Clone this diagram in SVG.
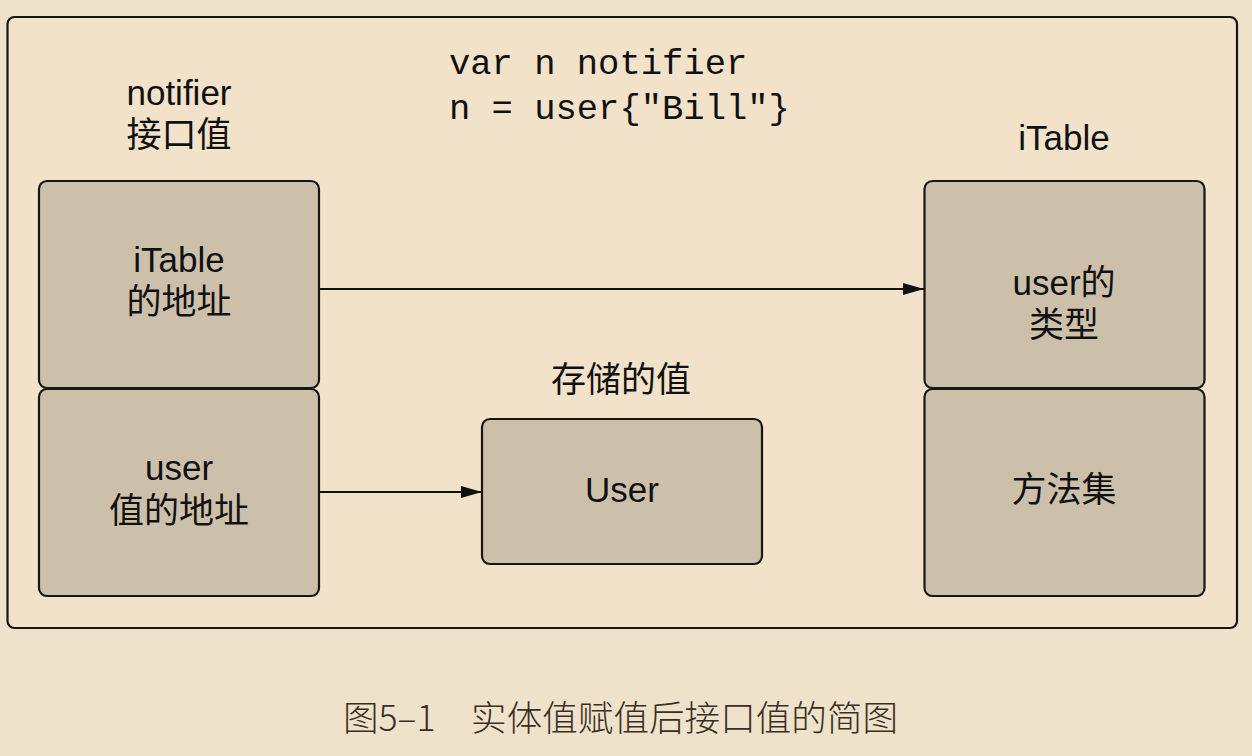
<svg xmlns="http://www.w3.org/2000/svg" width="1252" height="756" viewBox="0 0 1252 756">
<defs>
<style>
.box{fill:#cdc0aa;stroke:#161616;stroke-width:2.2}
.lbl{font-family:"Liberation Sans","Noto Sans CJK SC",sans-serif;font-size:35px;fill:#111;text-anchor:middle}
.code{font-family:"Liberation Mono","Noto Sans CJK SC",monospace;font-size:35.5px;fill:#111}
.edge{stroke:#111;stroke-width:2;fill:none;marker-end:url(#arr)}
</style>
<marker id="arr" markerWidth="22" markerHeight="14" refX="21" refY="7" orient="auto" markerUnits="userSpaceOnUse">
<path d="M0,1 L21,7 L0,13 Z" fill="#111"/>
</marker>
</defs>
<rect x="0" y="0" width="1252" height="756" fill="#efe2cb"/>
<rect id="frame" x="7.5" y="17" width="1229.5" height="611" rx="7" fill="#f1e2c9" stroke="#161616" stroke-width="2.2"/>
<g id="code">
<text class="code" x="449" y="74">var n notifier</text>
<text class="code" x="449" y="119">n = user{"Bill"}</text>
</g>
<g id="notifier-title">
<text class="lbl" x="179" y="105">notifier</text>
<text class="lbl" x="179" y="147">接口值</text>
</g>
<g id="itable-title">
<text class="lbl" x="1064" y="150">iTable</text>
</g>
<g id="stored-title">
<text class="lbl" x="621" y="392">存储的值</text>
</g>
<g id="connectors">
<line class="edge" x1="319" y1="289" x2="924" y2="289"/>
<line class="edge" x1="319" y1="492" x2="482" y2="492"/>
</g>
<g id="itable-addr">
<rect class="box" x="39" y="181" width="280" height="207" rx="8"/>
<text class="lbl" x="179" y="272">iTable</text>
<text class="lbl" x="179" y="314">的地址</text>
</g>
<g id="user-addr">
<rect class="box" x="39" y="389" width="280" height="207" rx="8"/>
<text class="lbl" x="179" y="480">user</text>
<text class="lbl" x="179" y="523">值的地址</text>
</g>
<g id="user-value">
<rect class="box" x="482" y="419" width="280" height="145" rx="8"/>
<text class="lbl" x="622" y="502">User</text>
</g>
<g id="user-type">
<rect class="box" x="924.5" y="181" width="280" height="207" rx="8"/>
<text class="lbl" x="1064" y="295">user的</text>
<text class="lbl" x="1064" y="337">类型</text>
</g>
<g id="method-set">
<rect class="box" x="924.5" y="389" width="280" height="207" rx="8"/>
<text class="lbl" x="1064" y="502">方法集</text>
</g>
<text x="343" y="731" font-family="'Noto Sans CJK SC','Liberation Sans',sans-serif" font-size="35.6" font-weight="300" fill="#3a2f24">图5–1　实体值赋值后接口值的简图</text>
</svg>
